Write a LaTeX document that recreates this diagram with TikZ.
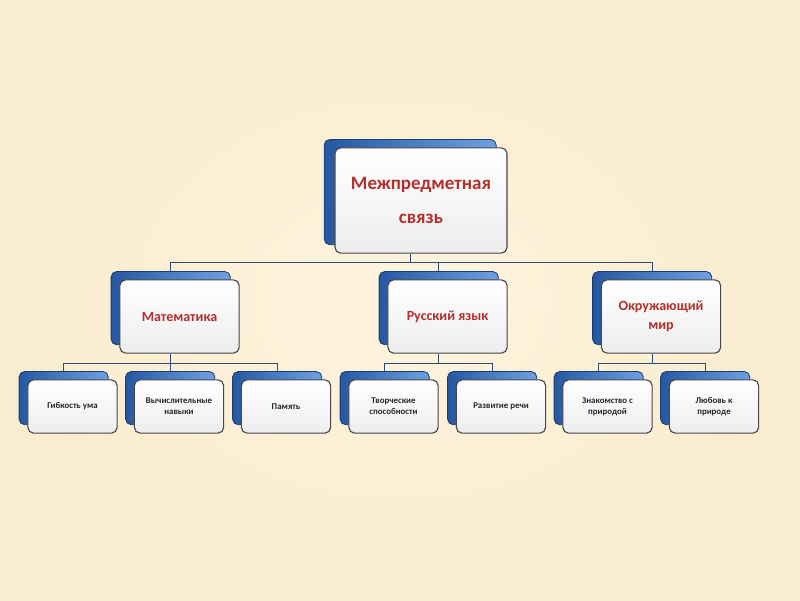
\documentclass[tikz,border=0pt]{standalone}
\usepackage{fontspec}
\setmainfont{Carlito}
\usetikzlibrary{positioning, shadows, backgrounds}

\definecolor{bgcream}{RGB}{250,236,206}
\definecolor{bglight}{RGB}{254,244,222}
\definecolor{boxedge}{RGB}{70,70,75}
\definecolor{backdark}{RGB}{38,88,162}
\definecolor{backlight}{RGB}{110,160,225}
\definecolor{backedge}{RGB}{28,60,110}
\definecolor{titlered}{RGB}{178,48,45}
\definecolor{linkblue}{RGB}{45,75,115}

\begin{document}
\begin{tikzpicture}[
    x=0.025cm, y=-0.025cm,
    box/.style={
        draw=boxedge, rectangle, rounded corners=4pt,
        line width=0.8pt, top color=white, bottom color=gray!14,
        align=center, inner sep=2pt
    },
    backing/.style={
        general shadow={shadow xshift=#1, shadow yshift=0.21cm,
            left color=backdark, right color=backlight,
            draw=backedge, line width=0.6pt}
    },
    topbox/.style={
        box, backing=-0.27cm, minimum width=4.3cm, minimum height=2.63cm,
        font=\fontsize{13.5}{24}\selectfont\bfseries, text=titlered
    },
    midbox/.style={
        box, backing=-0.22cm, minimum width=2.98cm, minimum height=1.83cm,
        font=\fontsize{10}{13.5}\selectfont\bfseries, text=titlered
    },
    leafbox/.style={
        box, backing=-0.22cm, minimum width=2.23cm, minimum height=1.33cm,
        font=\fontsize{6.3}{8}\selectfont\bfseries, text=black!85
    },
    link/.style={draw=linkblue, line width=0.7pt}
]

\node[topbox] (top) at (421,200.5) {Межпредметная\\связь};

\node[midbox] (math) at (179.5,316.5) {Математика};
\node[midbox] (rus)  at (447.5,316.5) {Русский язык};
\node[midbox] (okr)  at (661,316.5)   {Окружающий\\мир};

\node[leafbox] (gib)  at (72.5,406.5)  {Гибкость ума};
\node[leafbox] (vych) at (179,406.5)   {Вычислительные\\навыки};
\node[leafbox] (pam)  at (286,406.5)   {Память};
\node[leafbox] (tvor) at (393.5,406.5) {Творческие\\способности};
\node[leafbox] (razv) at (501,406.5)   {Развитие речи};
\node[leafbox] (znak) at (607.5,406.5) {Знакомство с\\природой};
\node[leafbox] (lub)  at (714,406.5)   {Любовь к\\природе};

\begin{scope}[on background layer]
    \shade[inner color=bglight, outer color=bgcream] (0,0) rectangle (800,600);
    % tree connectors
    \foreach \c in {math, rus, okr}
        \draw[link] ([xshift=-0.27cm]top.south) -- ++(0,-0.23cm) -| ([xshift=-0.22cm]\c.north);
    \foreach \p/\c in {math/gib, math/vych, math/pam, rus/tvor, rus/razv, okr/znak, okr/lub}
        \draw[link] ([xshift=-0.22cm]\p.south) -- ++(0,-0.25cm) -| ([xshift=-0.22cm]\c.north);
\end{scope}

\end{tikzpicture}
\end{document}
